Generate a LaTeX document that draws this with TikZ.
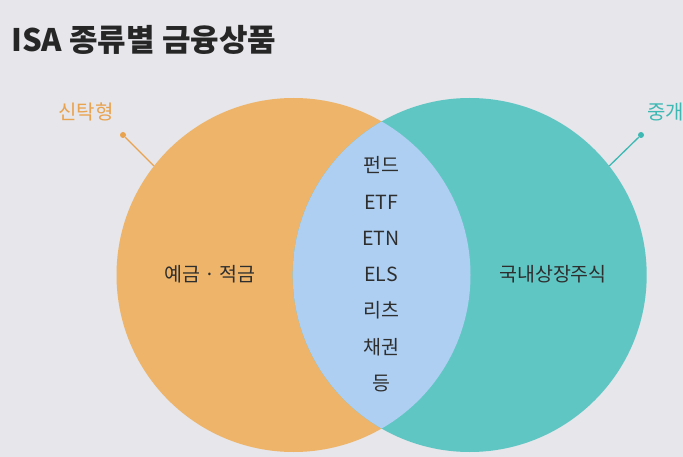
\documentclass[tikz,border=0pt]{standalone}
\usepackage{fontspec}
\setmainfont{Noto Sans CJK KR}
\usepackage{xcolor}
\usetikzlibrary{positioning}
\definecolor{bggray}{HTML}{E6E6EB}
\definecolor{trustfill}{HTML}{EDB46A}
\definecolor{brokerfill}{HTML}{5FC6C3}
\definecolor{bothfill}{HTML}{AECFF2}
\definecolor{trustline}{HTML}{E9A24E}
\definecolor{brokerline}{HTML}{3DB8B3}
\definecolor{txt}{HTML}{2E2E2E}

\begin{document}
\begin{tikzpicture}[x=1pt,y=-1pt,
  set/.style={circle,minimum size=354pt,inner sep=0pt},
  item/.style={font=\fontsize{19.5}{19.5}\selectfont,text=txt,inner sep=0pt,minimum height=35.8pt,text height=14pt,text depth=4pt},
  tag/.style={font=\fontsize{20}{20}\selectfont,inner sep=0pt},
  dot/.style={circle,inner sep=0pt,minimum size=6pt},
  lnk/.style={line width=1.3pt}
]
\useasboundingbox (0,0) rectangle (683,457);
\fill[bggray] (0,0) rectangle (683,457);
\node[anchor=west,font=\fontsize{31}{31}\selectfont\bfseries,text=black!85,inner sep=0pt] (title) at (11,40) {ISA 종류별 금융상품};
% two sets and their overlap
\node[set,fill=trustfill] (trust) at (293.5,275) {};
\node[set,fill=brokerfill] (broker) at (469.7,275) {};
\begin{scope}
  \clip (293.5,275) circle[radius=177pt];
  \fill[bothfill] (469.7,275) circle[radius=177pt];
\end{scope}
% set labels
\node[tag,text=trustline] (trustlbl) at (86,112) {신탁형};
\node[dot,fill=trustline] (trustdot) at (123,135) {};
\draw[lnk,trustline] (trustdot) -- (trust.142);
\node[tag,text=brokerline,anchor=west] (brokerlbl) at (647,112) {중개형};
\node[dot,fill=brokerline] (brokerdot) at (641,135) {};
\draw[lnk,brokerline] (brokerdot) -- (broker.38);
% contents
\node[item] (dep) at (210,277) {예금 · 적금};
\node[item] (stock) at (553,277) {국내상장주식};
\node[item] (fund) at (381,168) {펀드};
\node[item,below=0pt of fund] (etf) {ETF};
\node[item,below=0pt of etf] (etn) {ETN};
\node[item,below=0pt of etn] (els) {ELS};
\node[item,below=0pt of els] (reit) {리츠};
\node[item,below=0pt of reit] (bond) {채권};
\node[item,below=0pt of bond] (etc) {등};
\end{tikzpicture}
\end{document}
